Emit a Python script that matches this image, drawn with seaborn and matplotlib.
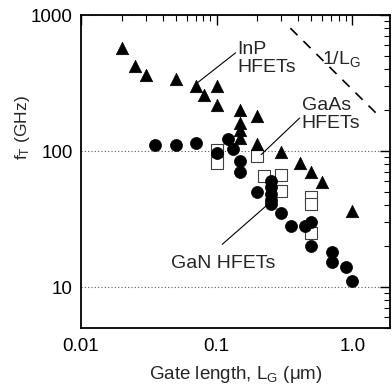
import matplotlib
matplotlib.use("Agg")
import matplotlib.pyplot as plt
import seaborn as sns
import pandas as pd

# ---- data ----
inp_x = [0.02, 0.025, 0.03, 0.05, 0.07, 0.081, 0.1, 0.1, 0.15, 0.15, 0.15, 0.15,
         0.2, 0.2, 0.3, 0.41, 0.5, 0.6, 1.0]
inp_y = [570, 425, 363, 340, 302, 259, 302, 219, 201, 160, 143, 125,
         180, 112, 99, 81, 70, 59, 36]

gan_x = [0.035, 0.05, 0.071, 0.1, 0.122, 0.131, 0.15, 0.15, 0.2, 0.25, 0.25, 0.25,
         0.25, 0.25, 0.3, 0.355, 0.45, 0.5, 0.5, 0.71, 0.71, 0.9, 1.0]
gan_y = [110, 110, 115, 97, 122, 104, 85, 70, 50, 60, 54, 48,
         44, 40.6, 35, 28, 28, 30, 20, 18, 15.2, 14, 11]

gaas_x = [0.1, 0.1, 0.2, 0.225, 0.3, 0.3, 0.5, 0.5, 0.5]
gaas_y = [102, 82, 92, 66, 67, 51, 46, 40.6, 25]

lg_x = [0.35, 1.5]
lg_y = [800, 190]

x_ticks = [0.01, 0.1, 1.0]
x_ticklabels = ["0.01", "0.1", "1.0"]
y_ticks = [10, 100, 1000]
y_ticklabels = ["10", "100", "1000"]

df = pd.DataFrame({
    "x": inp_x + gan_x + gaas_x,
    "y": inp_y + gan_y + gaas_y,
    "group": ["InP"] * len(inp_x) + ["GaN"] * len(gan_x) + ["GaAs"] * len(gaas_x),
})

sns.set_theme(style="white")
plt.rcParams["font.family"] = ["Liberation Sans", "DejaVu Sans"]
plt.rcParams["mathtext.fontset"] = "custom"
plt.rcParams["mathtext.rm"] = "Liberation Sans"
plt.rcParams["mathtext.it"] = "Liberation Sans:italic"

fig = plt.figure(figsize=(3.92, 3.85), dpi=100)
ax = fig.add_axes([81 / 392, (385 - 328) / 385, (390 - 81) / 392, (328 - 15) / 385])
ax.set_xscale("log")
ax.set_yscale("log")

# grid lines (dotted, horizontal at decades)
ax.yaxis.grid(True, which="major", linestyle=(0, (1, 2)), linewidth=0.8, color="0.35")
ax.xaxis.grid(False)

sns.scatterplot(data=df[df.group == "GaAs"], x="x", y="y", marker="s", s=72,
                facecolor="white", edgecolor="0.25", linewidth=0.8, ax=ax, zorder=3)
sns.scatterplot(data=df[df.group == "GaN"], x="x", y="y", marker="o", s=75,
                color="black", edgecolor="black", linewidth=0.5, ax=ax, zorder=4)
sns.scatterplot(data=df[df.group == "InP"], x="x", y="y", marker="^", s=80,
                color="black", edgecolor="black", linewidth=0.5, ax=ax, zorder=5)

sns.lineplot(x=lg_x, y=lg_y, ax=ax, color="black", linewidth=1.2,
             linestyle=(0, (6, 5)))

# annotation leader lines
line_kw = dict(arrowstyle="-", lw=0.8, color="black", shrinkA=0, shrinkB=0)
ax.annotate("", xy=(0.07, 310), xytext=(0.138, 527), arrowprops=line_kw)
ax.annotate("", xy=(0.213, 94), xytext=(0.41, 175), arrowprops=line_kw)
ax.annotate("", xy=(0.232, 39.5), xytext=(0.110, 20.6), arrowprops=line_kw)

tfs = 14
ax.text(0.142, 640, "InP\nHFETs", fontsize=tfs, va="top", ha="left", linespacing=1.05)
ax.text(0.425, 250, "GaAs\nHFETs", fontsize=tfs, va="top", ha="left", linespacing=1.1)
ax.text(0.046, 17.2, "GaN HFETs", fontsize=tfs, va="top", ha="left")
ax.text(0.60, 560, r"1/L$_\mathregular{G}$", fontsize=tfs, va="top", ha="left")

ax.set_xlim(0.01, 1.9)
ax.set_ylim(5, 1000)
ax.set_xticks(x_ticks)
ax.set_xticklabels(x_ticklabels)
ax.set_yticks(y_ticks)
ax.set_yticklabels(y_ticklabels)

ax.tick_params(which="both", direction="in", top=True, right=True, colors="black",
               labelsize=13.5)
ax.tick_params(which="major", length=7, width=1.0)
ax.tick_params(which="minor", length=4, width=0.8)
ax.tick_params(axis="x", pad=7)
ax.tick_params(axis="y", pad=6)

for sp in ax.spines.values():
    sp.set_linewidth(1.3)
    sp.set_color("black")

ax.set_xlabel(r"Gate length, L$_\mathregular{G}$ (μm)", fontsize=13.5, labelpad=7)
ax.set_ylabel(r"f$_\mathregular{T}$ (GHz)", fontsize=12.5)
ax.yaxis.set_label_coords(-0.16, 0.642)

fig.savefig("out.png", dpi=100)
